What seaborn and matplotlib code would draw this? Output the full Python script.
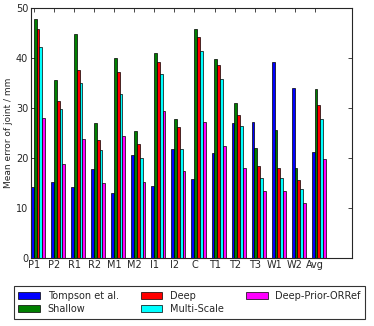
import matplotlib
matplotlib.use("Agg")
import matplotlib.pyplot as plt
import seaborn as sns
import pandas as pd
import numpy as np

joints = ["P1", "P2", "R1", "R2", "M1", "M2", "I1", "I2", "C", "T1", "T2", "T3", "W1", "W2", "Avg"]
methods = ["Tompson et al.", "Shallow", "Deep", "Multi-Scale", "Deep-Prior-ORRef"]

tompson = [14.2, 15.2, 14.1, 17.7, 13.0, 20.6, 14.4, 21.8, 15.7, 21.0, 26.9, 27.1, 39.3, 34.0, 21.1]
shallow = [47.9, 35.6, 44.8, 26.9, 40.1, 25.4, 41.1, 27.7, 45.8, 39.9, 30.9, 21.9, 25.6, 17.9, 33.7]
deep = [45.8, 31.4, 37.6, 23.6, 37.2, 22.7, 39.3, 26.1, 44.3, 38.7, 28.6, 18.3, 18.0, 15.5, 30.5]
multiscale = [42.3, 29.7, 35.0, 21.5, 32.8, 20.0, 36.7, 21.8, 41.5, 35.7, 26.3, 15.9, 15.9, 13.8, 27.8]
orref = [27.9, 18.8, 23.8, 15.0, 24.4, 15.1, 29.3, 17.3, 27.1, 22.4, 18.0, 13.4, 13.4, 10.9, 19.8]

colors = ["#0000ff", "#007f00", "#ff0000", "#00ffff", "#ff00ff"]

df = pd.DataFrame({
    "joint": joints * 5,
    "method": np.repeat(methods, len(joints)),
    "error": tompson + shallow + deep + multiscale + orref,
})

sns.set_style("ticks")
plt.rcParams["font.family"] = ["DejaVu Sans"]
plt.rcParams["xtick.direction"] = "in"
plt.rcParams["ytick.direction"] = "in"
plt.rcParams["xtick.top"] = True
plt.rcParams["ytick.right"] = True

fig = plt.figure(figsize=(3.74, 3.26), dpi=100)
ax = fig.add_axes([0.083, 0.21, 0.858, 0.765])
sns.barplot(data=df, x="joint", y="error", hue="method", order=joints,
            hue_order=methods, palette=colors, width=0.7, saturation=1,
            edgecolor="black", linewidth=0.5, ax=ax, legend=True)

ax.set_xlim(-0.35, 15.65)
ax.set_ylim(0, 50)
ax.set_yticks([0, 10, 20, 30, 40, 50])
ax.set_xticks(np.arange(len(joints)) - 0.2)
ax.set_xticklabels(joints)
ax.tick_params(labelsize=7, length=3, width=0.6, pad=2)
ax.set_xlabel("")
ax.set_ylabel("Mean error of joint / mm", fontsize=6.5, labelpad=2)
for s in ax.spines.values():
    s.set_linewidth(0.8)

handles, labels = ax.get_legend_handles_labels()
ax.get_legend().remove()
leg = fig.legend(handles, labels, loc="lower center", bbox_to_anchor=(0.507, 0.008),
                 ncol=3, fontsize=7, frameon=True, fancybox=False,
                 edgecolor="black", handlelength=2.2, handleheight=0.8,
                 handletextpad=0.8, columnspacing=2.3, borderpad=0.45,
                 labelspacing=0.35)
leg.get_frame().set_linewidth(0.8)

fig.savefig("out.png", dpi=100)
